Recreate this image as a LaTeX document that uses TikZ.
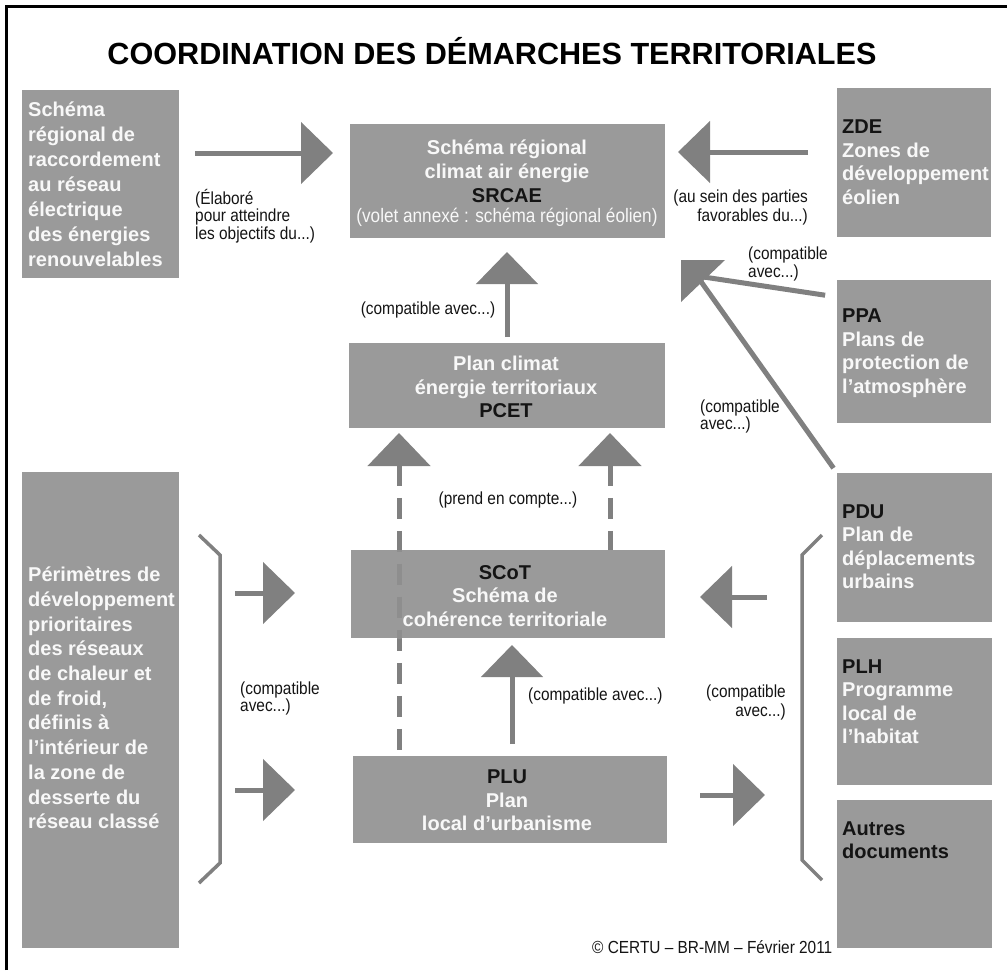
\documentclass[tikz,border=0pt]{standalone}
\usepackage{fontspec}
\setmainfont{Liberation Sans}
\newfontfamily\narrowfont[FakeStretch=0.88]{Liberation Sans}
\usetikzlibrary{arrows.meta}
\definecolor{boxgray}{RGB}{154,154,154}
\definecolor{arrgray}{RGB}{128,128,128}
\definecolor{ink}{RGB}{20,20,20}
\definecolor{boxwhite}{RGB}{248,248,248}
\begin{document}
\begin{tikzpicture}[x=1pt,y=-1pt,
  box/.style={fill=boxgray, inner sep=0pt, outer sep=0pt, anchor=north west},
  btxt/.style={font=\bfseries\fontsize{20}{23.5}\selectfont, text=boxwhite, inner sep=0pt, align=left},
  lbl/.style={font=\narrowfont\fontsize{17.5}{17.5}\selectfont, text=ink, inner sep=0pt},
  conn/.style={draw=arrgray, line width=5pt, -{Triangle[length=32pt,width=61pt]}},
  dconn/.style={draw=arrgray, line width=5pt, dash pattern=on 21pt off 12pt, {Triangle[length=33pt,width=62pt]}-},
  lineonly/.style={draw=arrgray, line width=5pt},
  brk/.style={draw=arrgray, line width=3.5pt}]
\useasboundingbox (0,0) rectangle (1007,970);
\fill[white] (0,0) rectangle (1007,970);
% frame
\draw[line width=2.5pt, black] (6.5,970) -- (6.5,6.5) -- (1007,6.5);
% title
\node[font=\bfseries\fontsize{30.6}{36}\selectfont, anchor=base, inner sep=0pt] (title) at (492,64) {COORDINATION DES DÉMARCHES TERRITORIALES};
% boxes
\node[box, minimum width=157pt, minimum height=188pt] (r1) at (22,90) {};
\node[box, minimum width=315pt, minimum height=114pt] (srcae) at (350,124) {};
\node[box, minimum width=154pt, minimum height=149pt] (zde) at (837,88) {};
\node[box, minimum width=154pt, minimum height=143pt] (ppa) at (837,280) {};
\node[box, minimum width=316pt, minimum height=85pt] (pcet) at (349,343) {};
\node[box, minimum width=314pt, minimum height=87pt] (plu) at (353,756) {};
\node[box, minimum width=155pt, minimum height=149pt] (pdu) at (837,473) {};
\node[box, minimum width=155pt, minimum height=147pt] (plh) at (837,638) {};
\node[box, minimum width=155pt, minimum height=148pt] (autres) at (837,800) {};
\node[box, minimum width=157pt, minimum height=476pt] (r2) at (22,472) {};
% helper coordinates
\coordinate (xl) at (399,0);
\coordinate (xr) at (610,0);
\coordinate (xc) at (507,0);
\coordinate (xd) at (512,0);
\coordinate (ya) at (0,153);
\coordinate (yb) at (0,152);
\coordinate (yp) at (0,297);
% dashed line through SCoT (under the box)
\draw[dconn, shorten <=5pt] (pcet.south -| xl) -- (plu.north -| xl);
\node[box, minimum width=314pt, minimum height=88pt] (scot) at (351,550) {};
\begin{scope}
  \clip (scot.north west) rectangle (scot.south east);
  \draw[dconn, draw=arrgray!45!boxgray, shorten <=5pt] (pcet.south -| xl) -- (plu.north -| xl);
\end{scope}
\draw[dconn, shorten <=5pt] (pcet.south -| xr) -- (scot.north -| xr);
% box texts
\node[btxt, anchor=west, font=\bfseries\fontsize{20}{25}\selectfont] (r1t) at (28,184) {Schéma\\régional de\\raccordement\\au réseau\\électrique\\des énergies\\renouvelables};
\node[btxt, align=center, font=\bfseries\fontsize{20}{24}\selectfont] (srcaet) at (507,171.5) {Schéma régional\\climat air énergie\\\textcolor{ink}{SRCAE}};
\node[lbl, text=boxwhite, font=\narrowfont\fontsize{19.5}{20}\selectfont] (srcaev) at (507,217) {(volet annexé : schéma régional éolien)};
\node[btxt, anchor=west] (zdet) at (842,162) {\textcolor{ink}{ZDE}\\Zones de\\développement\\éolien};
\node[btxt, anchor=west] (ppat) at (842,353) {\textcolor{ink}{PPA}\\Plans de\\protection de\\l’atmosphère};
\node[btxt, align=center] (pcett) at (506,387) {Plan climat\\énergie territoriaux\\\textcolor{ink}{PCET}};
\node[btxt, align=center] (scott) at (505,596) {\textcolor{ink}{SCoT}\\Schéma de\\cohérence territoriale};
\node[btxt, align=center] (plut) at (507,800.5) {\textcolor{ink}{PLU}\\Plan\\local d’urbanisme};
\node[btxt, anchor=west] (pdut) at (842,546.5) {\textcolor{ink}{PDU}\\Plan de\\déplacements\\urbains};
\node[btxt, anchor=west] (plht) at (842,701.5) {\textcolor{ink}{PLH}\\Programme\\local de\\l’habitat};
\node[btxt, anchor=west] (autrest) at (842,840) {\textcolor{ink}{Autres}\\\textcolor{ink}{documents}};
\node[btxt, anchor=west, font=\bfseries\fontsize{20}{24.7}\selectfont] (r2t) at (28,698) {Périmètres de\\développement\\prioritaires\\des réseaux\\de chaleur et\\de froid,\\définis à\\l’intérieur de\\la zone de\\desserte du\\réseau classé};
% arrows
\draw[conn, shorten <=16pt, shorten >=17pt] (r1.east |- ya) -- (srcae.west |- ya);
\draw[conn, shorten <=29pt, shorten >=13pt] (zde.west |- yb) -- (srcae.east |- yb);
\draw[conn, shorten <=6pt, shorten >=14pt] (pcet.north -| xc) -- (srcae.south -| xc);
\draw[conn, shorten <=12pt, shorten >=7pt] (plu.north -| xd) -- (scot.south -| xd);
\coordinate (la1) at (235,593);
\coordinate (la2) at (235,790);
\coordinate (ra1) at (767,597);
\coordinate (ra2) at (765,795);
\draw[conn, shorten >=56pt] (la1) -- (scot.west |- la1);
\draw[conn, shorten >=58pt] (la2) -- (plu.west |- la2);
\draw[conn, shorten >=35pt] (ra1) -- (scot.east |- ra1);
\draw[conn, shorten <=33pt] (plu.east |- ra2) -- (ra2);
% PPA / PDU towards SRCAE
\coordinate (hd) at (697,276);
\draw[lineonly, shorten <=12pt] (ppa.west |- yp) -- (hd);
\draw[lineonly, shorten <=6pt] (pdu.north west) -- (hd);
\fill[arrgray] (681,260) -- (725,260) -- (681,302) -- cycle;
% brackets
\draw[brk] (199,535) -- (220,555) -- (220,863) -- (199,883);
\draw[brk] (822,535) -- (802,555) -- (802,860) -- (822,880);
% labels
\node[lbl, align=left, anchor=west] (l1) at (195,216) {(Élaboré\\pour atteindre\\les objectifs du...)};
\node[lbl, align=right, anchor=east, font=\narrowfont\fontsize{17.5}{19}\selectfont] (l2) at (808,207.5) {(au sein des parties\\favorables du...)};
\node[lbl] (l3) at (428,310) {(compatible avec...)};
\node[lbl, align=left, anchor=west] (l4) at (748,264) {(compatible\\avec...)};
\node[lbl, align=left, anchor=west] (l5) at (700,416.5) {(compatible\\avec...)};
\node[lbl] (l6) at (508,500) {(prend en compte...)};
\node[lbl, align=left, anchor=west] (l7) at (240,698.5) {(compatible\\avec...)};
\node[lbl, anchor=west] (l8) at (528,696) {(compatible avec...)};
\node[lbl, align=right, anchor=east, font=\narrowfont\fontsize{17.5}{19}\selectfont] (l9) at (786,702) {(compatible\\avec...)};
\node[lbl, anchor=west] (copy) at (592,947) {© CERTU – BR-MM – Février 2011};
\end{tikzpicture}
\end{document}
